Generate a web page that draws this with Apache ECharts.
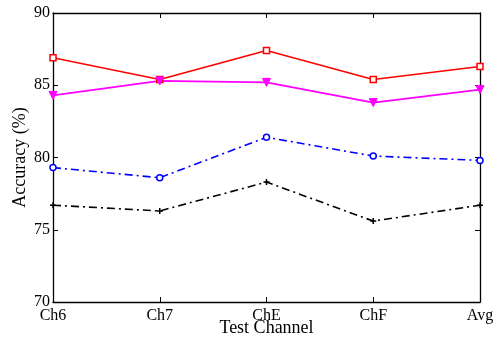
<!DOCTYPE html>
<html><head><meta charset="utf-8">
<script src="https://cdn.jsdelivr.net/npm/echarts@6/dist/echarts.min.js"></script>
<style>html,body{margin:0;padding:0;background:#fff}#c{width:501px;height:339px}</style>
</head><body><div id="c"></div>
<script>
const categories = ['Ch6','Ch7','ChE','ChF','Avg'];
const redSeries = [86.9, 85.4, 87.4, 85.4, 86.3];
const magentaSeries = [84.3, 85.3, 85.2, 83.8, 84.7];
const blueSeries = [79.3, 78.6, 81.4, 80.1, 79.8];
const blackSeries = [76.7, 76.3, 78.3, 75.6, 76.7];
const yTicks = [70, 75, 80, 85, 90];

const font = 'Liberation Serif, Times New Roman, serif';
const chart = echarts.init(document.getElementById('c'), null, {renderer:'canvas'});
const axisLine = {show:true, lineStyle:{color:'#000', width:1.3}};
const tick = {show:true, inside:true, length:5, lineStyle:{color:'#000', width:1}};
chart.setOption({
  animation:false,
  backgroundColor:'#fff',
  grid:{left:53, right:21, top:13, bottom:37, containLabel:false, outerBoundsMode:'none'},
  xAxis:[{
    type:'category', data:categories, boundaryGap:false,
    axisLine, axisTick:Object.assign({alignWithLabel:true}, tick),
    axisLabel:{color:'#000', fontFamily:font, fontSize:16, margin:6},
    name:'Test Channel', nameLocation:'middle', nameGap:17, nameMoveOverlap:false,
    nameTextStyle:{color:'#000', fontFamily:font, fontSize:18},
    splitLine:{show:false}
  },{
    type:'category', data:categories, boundaryGap:false, position:'top',
    axisLine, axisTick:tick, axisLabel:{show:false}, splitLine:{show:false}
  }],
  yAxis:[{
    type:'value', min:70, max:90, interval:5,
    axisLine, axisTick:tick,
    axisLabel:{color:'#000', fontFamily:font, fontSize:16, margin:3,
      formatter:v=>yTicks.includes(v)?String(v):''},
    name:'Accuracy (%)', nameLocation:'middle', nameGap:24, nameMoveOverlap:false,
    nameTextStyle:{color:'#000', fontFamily:font, fontSize:18},
    splitLine:{show:false}
  },{
    type:'value', min:70, max:90, interval:5, position:'right',
    axisLine, axisTick:tick, axisLabel:{show:false}, splitLine:{show:false}
  }],
  series:[
    {type:'line', data:redSeries, symbol:'rect', symbolSize:6,
     lineStyle:{color:'#ff0000', width:1.6}, itemStyle:{color:'#fff', borderColor:'#ff0000', borderWidth:1.5}},
    {type:'line', data:magentaSeries, symbol:'triangle', symbolRotate:180, symbolSize:8,
     lineStyle:{color:'#ff00ff', width:1.6}, itemStyle:{color:'#ff00ff', borderColor:'#ff00ff'}},
    {type:'line', data:blueSeries, symbol:'circle', symbolSize:6,
     lineStyle:{color:'#0000ff', width:1.6, type:[8,4,2,4]}, itemStyle:{color:'#fff', borderColor:'#0000ff', borderWidth:1.5}},
    {type:'line', data:blackSeries, symbol:'path://M-1,0H1M0,-1V1', symbolSize:6,
     lineStyle:{color:'#000', width:1.6, type:[8,4,2,4]}, itemStyle:{color:'none', borderColor:'#000', borderWidth:1.5}}
  ]
});
</script></body></html>
